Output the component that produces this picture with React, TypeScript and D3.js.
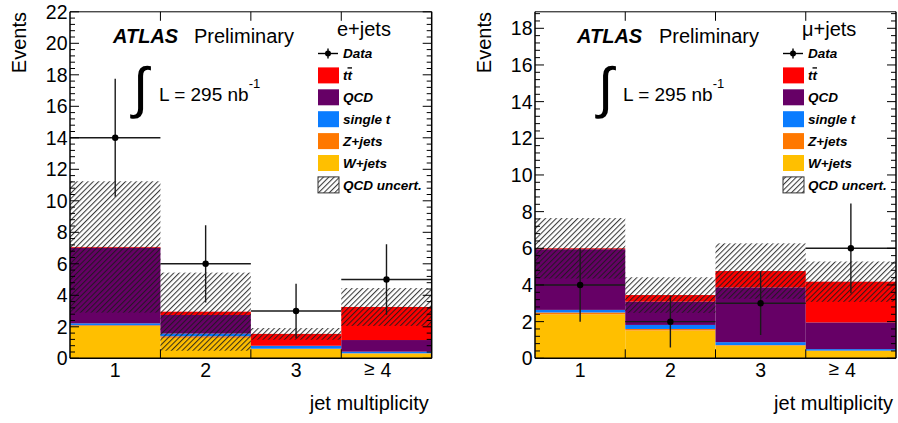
import React from "react";
import * as d3 from "d3";

const FONT = "'Liberation Sans', Arial, Helvetica, sans-serif";

// categories
const categories = ["1", "2", "3", "4"];

// e+jets
const eWjets = [2.05, 1.3, 0.59, 0.3];
const eZjets = [0.05, 0.1, 0.02, 0.02];
const eSingleT = [0.12, 0.17, 0.17, 0.1];
const eQCD = [4.8, 1.18, 0.02, 0.74];
const eTtbar = [0.05, 0.21, 0.75, 2.1];
const eQCDUnc = [4.17, 2.48, 0.37, 1.2];
const eData = [14, 6, 3, 5];

// mu+jets
const mWjets = [2.4, 1.52, 0.69, 0.4];
const mZjets = [0.1, 0.08, 0.03, 0.02];
const mSingleT = [0.14, 0.22, 0.16, 0.08];
const mQCD = [3.31, 1.27, 2.99, 1.46];
const mTtbar = [0.05, 0.36, 0.89, 2.22];
const mQCDUnc = [1.65, 0.97, 1.51, 1.1];
const mData = [4, 2, 3, 6];

const yTicksLeft = [0, 2, 4, 6, 8, 10, 12, 14, 16, 18, 20, 22];
const yTicksRight = [0, 2, 4, 6, 8, 10, 12, 14, 16, 18];

const stackNames = ["W+jets", "Z+jets", "single t", "QCD", "ttbar"];
const stackColors = ["#ffbf00", "#ff7800", "#0a7cff", "#660066", "#ff0000"];

type PanelCfg = {
  x0: number;
  x1: number;
  yMax: number;
  yTicks: number[];
  stacks: number[][];
  unc: number[];
  data: number[];
  channel: string;
  atlasX: number;
  prelimX: number;
  chanX: number;
  intX: number;
  lumiX: number;
  legX: number;
  eventsX: number;
  id: string;
};

const Y_TOP = 11.8;
const Y_BOT = 358.3;

function Panel({ cfg }: { cfg: PanelCfg }) {
  const x = d3.scaleLinear().domain([0.5, 4.5]).range([cfg.x0, cfg.x1]);
  const y = d3.scaleLinear().domain([0, cfg.yMax]).range([Y_BOT, Y_TOP]);
  const minor = d3.range(0, cfg.yMax + 1e-6, 0.4);
  const edges = [1.5, 2.5, 3.5];
  const rects: any[] = [];
  const totals: number[] = [];
  categories.forEach((c, i) => {
    let base = 0;
    cfg.stacks.forEach((s, k) => {
      const top = base + s[i];
      rects.push(
        <rect
          key={`s${k}-${i}`}
          x={x(i + 0.5)}
          width={x(i + 1.5) - x(i + 0.5)}
          y={y(top)}
          height={y(base) - y(top)}
          fill={stackColors[k]}
        />
      );
      base = top;
    });
    totals.push(base);
  });
  const legY0 = 53.5;
  const legDy = 21.9;
  const legItems = [
    { name: "ttbar", color: stackColors[4] },
    { name: "QCD", color: stackColors[3] },
    { name: "single t", color: stackColors[2] },
    { name: "Z+jets", color: stackColors[1] },
    { name: "W+jets", color: stackColors[0] },
  ];
  const hatchId = `hatch-${cfg.id}`;
  const clipId = `clip-${cfg.id}`;
  return (
    <g>
      <defs>
        <pattern
          id={hatchId}
          patternUnits="userSpaceOnUse"
          width={3.8}
          height={10}
          patternTransform="rotate(45)"
        >
          <line x1={0.6} y1={-1} x2={0.6} y2={11} stroke="#1a1a1a" strokeWidth={0.95} />
        </pattern>
        <clipPath id={clipId}>
          <rect x={cfg.x0} y={Y_TOP} width={cfg.x1 - cfg.x0} height={Y_BOT - Y_TOP} />
        </clipPath>
      </defs>
      <g clipPath={`url(#${clipId})`}>
        {rects}
        {categories.map((c, i) => (
          <rect
            key={`u${i}`}
            x={x(i + 0.5)}
            width={x(i + 1.5) - x(i + 0.5)}
            y={y(totals[i] + cfg.unc[i])}
            height={y(Math.max(0, totals[i] - cfg.unc[i])) - y(totals[i] + cfg.unc[i])}
            fill={`url(#${hatchId})`}
          />
        ))}
        {cfg.data.map((d, i) => {
          const e = Math.sqrt(d);
          return (
            <g key={`d${i}`} stroke="#1a1a1a" strokeWidth={1.4}>
              <line x1={x(i + 0.5)} x2={x(i + 1.5)} y1={y(d)} y2={y(d)} />
              <line x1={x(i + 1)} x2={x(i + 1)} y1={y(d - e)} y2={y(d + e)} />
              <circle cx={x(i + 1)} cy={y(d)} r={3.2} fill="#000" stroke="none" />
            </g>
          );
        })}
      </g>
      {/* frame */}
      <g stroke="#000" fill="none">
        <line x1={cfg.x0} x2={cfg.x1} y1={Y_TOP} y2={Y_TOP} strokeWidth={1} />
        <line x1={cfg.x0} x2={cfg.x1} y1={Y_BOT} y2={Y_BOT} strokeWidth={1.5} />
        <line x1={cfg.x0} x2={cfg.x0} y1={Y_TOP} y2={Y_BOT} strokeWidth={1.5} />
        <line x1={cfg.x1} x2={cfg.x1} y1={Y_TOP} y2={Y_BOT} strokeWidth={1.5} />
        {minor.map((v, i) => {
          const major = Math.abs(v / 2 - Math.round(v / 2)) < 1e-6;
          const len = major ? 9 : 5;
          return (
            <g key={`t${i}`} strokeWidth={1}>
              <line x1={cfg.x0} x2={cfg.x0 + len} y1={y(v)} y2={y(v)} />
              <line x1={cfg.x1} x2={cfg.x1 - len} y1={y(v)} y2={y(v)} />
            </g>
          );
        })}
        {edges.map((v, i) => (
          <g key={`xt${i}`} strokeWidth={1}>
            <line x1={x(v)} x2={x(v)} y1={Y_TOP} y2={Y_TOP + 9} />
            <line x1={x(v)} x2={x(v)} y1={Y_BOT} y2={Y_BOT - 9} />
          </g>
        ))}
      </g>
      {/* tick labels */}
      <g fontFamily={FONT} fontSize={19.5} fill="#000">
        {cfg.yTicks.map((v) => (
          <text key={`yl${v}`} x={cfg.x0 - 2.5} y={y(v)} dy="0.36em" textAnchor="end">
            {v}
          </text>
        ))}
        {categories.map((c, i) =>
          i < 3 ? (
            <text key={`xl${i}`} x={x(i + 1)} y={377} textAnchor="middle">
              {c}
            </text>
          ) : (
            <g key={`xl${i}`}>
              <text x={x(i + 1) - 12} y={374.5} textAnchor="end" fontSize={19}>
                ≥
              </text>
              <text x={x(i + 1) - 6} y={377} textAnchor="start">
                {c}
              </text>
            </g>
          )
        )}
        <text x={cfg.x1 - 3} y={410} textAnchor="end" fontSize={20}>
          jet multiplicity
        </text>
        <text
          transform={`translate(${cfg.eventsX},12) rotate(-90)`}
          textAnchor="end"
          fontSize={20}
        >
          Events
        </text>
      </g>
      {/* annotations */}
      <g fontFamily={FONT} fill="#000">
        <text x={cfg.atlasX} y={43} fontSize={20} fontWeight="bold" fontStyle="italic">
          ATLAS
        </text>
        <text x={cfg.prelimX} y={43} fontSize={20}>
          Preliminary
        </text>
        <text x={cfg.chanX} y={36} fontSize={20}>
          {cfg.channel}
        </text>
        <text x={cfg.intX} y={107} fontSize={56}>
          ∫
        </text>
        <text x={cfg.lumiX} y={100.5} fontSize={19}>
          L = 295 nb
          <tspan dy={-13} fontSize={13}>
            -1
          </tspan>
        </text>
      </g>
      {/* legend */}
      <g fontFamily={FONT} fontSize={13.5} fontWeight="bold" fontStyle="italic">
        <g stroke="#000" strokeWidth={1.4}>
          <line x1={cfg.legX} x2={cfg.legX + 20} y1={legY0} y2={legY0} />
          <line x1={cfg.legX + 10} x2={cfg.legX + 10} y1={legY0 - 5} y2={legY0 + 5} />
          <circle cx={cfg.legX + 10} cy={legY0} r={3} fill="#000" stroke="none" />
        </g>
        <text x={cfg.legX + 25} y={legY0} dy="0.36em">
          Data
        </text>
        {legItems.map((it, k) => {
          const cy = legY0 + legDy * (k + 1);
          return (
            <g key={`lg${k}`}>
              <rect x={cfg.legX} y={cy - 8} width={21} height={16} fill={it.color} />
              <text x={cfg.legX + 25} y={cy} dy="0.36em">
                {it.name === "ttbar" ? (
                  <>
                    t<tspan textDecoration="overline">t</tspan>
                  </>
                ) : (
                  it.name
                )}
              </text>
            </g>
          );
        })}
        {(() => {
          const cy = legY0 + legDy * 6;
          return (
            <g>
              <rect
                x={cfg.legX}
                y={cy - 8}
                width={21}
                height={16}
                fill={`url(#${hatchId})`}
                stroke="#333"
                strokeWidth={1}
              />
              <text x={cfg.legX + 25} y={cy} dy="0.36em">
                QCD uncert.
              </text>
            </g>
          );
        })()}
      </g>
    </g>
  );
}

export default function App() {
  const left: PanelCfg = {
    x0: 70,
    x1: 431.7,
    yMax: 22,
    yTicks: yTicksLeft,
    stacks: [eWjets, eZjets, eSingleT, eQCD, eTtbar],
    unc: eQCDUnc,
    data: eData,
    channel: "e+jets",
    atlasX: 113,
    prelimX: 194,
    chanX: 337,
    intX: 133,
    lumiX: 159,
    legX: 318,
    eventsX: 26,
    id: "e",
  };
  const right: PanelCfg = {
    x0: 535,
    x1: 896,
    yMax: 18.9,
    yTicks: yTicksRight,
    stacks: [mWjets, mZjets, mSingleT, mQCD, mTtbar],
    unc: mQCDUnc,
    data: mData,
    channel: "μ+jets",
    atlasX: 577,
    prelimX: 659,
    chanX: 802,
    intX: 598,
    lumiX: 623,
    legX: 783,
    eventsX: 491,
    id: "m",
  };
  return (
    <svg
      width={898}
      height={423}
      style={{ position: "absolute", left: 0, top: 0, background: "#fff" }}
    >
      <rect width={898} height={423} fill="#fff" />
      <Panel cfg={left} />
      <Panel cfg={right} />
    </svg>
  );
}
